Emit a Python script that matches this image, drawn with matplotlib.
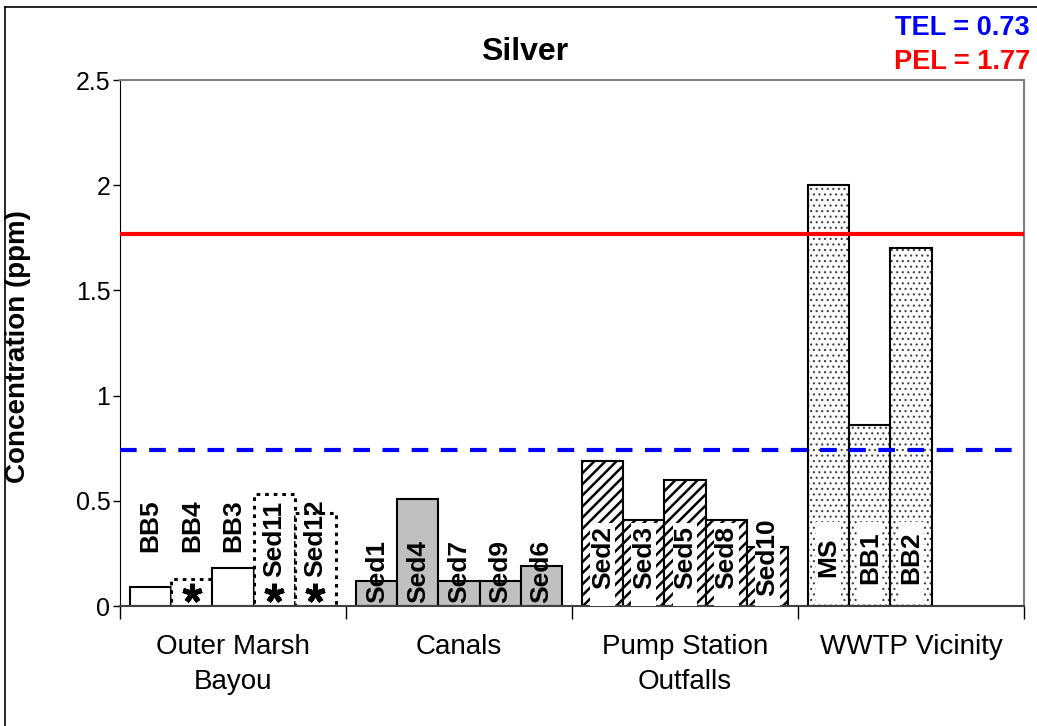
import numpy as np
import matplotlib
matplotlib.use("Agg")
import matplotlib.pyplot as plt
from matplotlib.patches import Rectangle
from matplotlib.lines import Line2D

plt.rcParams.update({"font.family": ["Liberation Sans", "DejaVu Sans"],
                     "hatch.linewidth": 1.8})

# data
groups = ["Outer Marsh\nBayou", "Canals", "Pump Station\nOutfalls", "WWTP Vicinity"]
outer_sites = ["BB5", "BB4", "BB3", "Sed11", "Sed12"]
outer_vals = [0.09, 0.13, 0.18, 0.53, 0.44]
outer_nd = [False, True, False, True, True]   # dotted bar + asterisk
canal_sites = ["Sed1", "Sed4", "Sed7", "Sed9", "Sed6"]
canal_vals = [0.12, 0.51, 0.12, 0.12, 0.19]
pump_sites = ["Sed2", "Sed3", "Sed5", "Sed8", "Sed10"]
pump_vals = [0.69, 0.41, 0.60, 0.41, 0.28]
wwtp_sites = ["MS", "BB1", "BB2"]
wwtp_vals = [2.0, 0.86, 1.70]
TEL = 0.74
PEL = 1.77
TEL_TXT = "TEL = 0.73"
PEL_TXT = "PEL = 1.77"

W = 0.182
OFF = 0.045
LBL = 19


def xpos(g, n):
    return g + OFF + (np.arange(n) + 0.5) * W


fig = plt.figure(figsize=(10.37, 7.26), dpi=100)
ax = fig.add_axes([120 / 1037, 1 - 606 / 726, 904 / 1037, 526 / 726])

# outer marsh bayou
x0 = xpos(0, len(outer_sites))
for x, v, s, nd in zip(x0, outer_vals, outer_sites, outer_nd):
    if nd:
        ax.bar(x, v, W, color="white", edgecolor="black", lw=2.2,
               ls=(0, (1.2, 1.6)), zorder=2)
        ax.plot(x, 0.062, marker=(5, 2, 0), ms=14, mew=3.6, color="black",
                zorder=4)
    else:
        ax.bar(x, v, W, color="white", edgecolor="black", lw=1.5, zorder=2)
    ty = 0.32 if s.startswith("Sed") else 0.38
    ax.text(x, ty, s, rotation=90, ha="center", va="center", fontsize=LBL,
            fontweight="bold", zorder=4)

# canals
x1 = xpos(1, len(canal_sites))
ax.bar(x1, canal_vals, W, color="#C0C0C0", edgecolor="black", lw=1.5, zorder=2)
for x, s in zip(x1, canal_sites):
    ax.text(x, 0.012, s, rotation=90, ha="center", va="bottom", fontsize=LBL,
            fontweight="bold", zorder=4)

# pump station outfalls
x2 = xpos(2, len(pump_sites))
ax.bar(x2, pump_vals, W, color="white", edgecolor="black", hatch="///",
       lw=1.5, zorder=2)
for x, s in zip(x2, pump_sites):
    ax.add_patch(Rectangle((x - 0.055, 0.0), 0.11, 0.395, fc="white",
                           ec="none", zorder=3))
    ax.text(x, 0.23, s, rotation=90, ha="center", va="center", fontsize=LBL,
            fontweight="bold", zorder=4)

# wwtp vicinity
x3 = xpos(3, len(wwtp_sites))
with plt.rc_context({"hatch.linewidth": 0.8}):
    ax.bar(x3, wwtp_vals, W, color="white", edgecolor="#404040", hatch="...",
           lw=0, zorder=2)
ax.bar(x3, wwtp_vals, W, fill=False, edgecolor="black", lw=1.5, zorder=2.5)
for x, s in zip(x3, wwtp_sites):
    ax.add_patch(Rectangle((x - 0.055, 0.015), 0.11, 0.385, fc="white",
                           ec="none", zorder=3))
    ax.text(x, 0.23, s, rotation=90, ha="center", va="center", fontsize=LBL,
            fontweight="bold", zorder=4)

# guideline levels
ax.axhline(PEL, color="#FF0000", lw=3, zorder=5)
ax.axhline(TEL, color="#0000FF", lw=3, ls=(0, (4, 3)), zorder=5)

ax.set_xlim(0, 4)
ax.set_ylim(0, 2.5)
ax.set_yticks(np.arange(0, 2.51, 0.5))
ax.set_yticklabels(["0", "0.5", "1", "1.5", "2", "2.5"], fontsize=18)
ax.tick_params(axis="y", length=5, width=1, pad=2)
ax.set_xticks(range(5))
ax.set_xticklabels([])
ax.tick_params(axis="x", which="major", length=9, width=1)
ax.set_xticks(np.arange(4) + 0.5, minor=True)
ax.set_xticklabels(groups, minor=True, fontsize=20, linespacing=1.45)
ax.tick_params(axis="x", which="minor", length=0, pad=20)
for sp in ("top", "right"):
    ax.spines[sp].set_color("#808080")
    ax.spines[sp].set_linewidth(1.5)
ax.spines["left"].set_color("black")
ax.spines["bottom"].set_color("#404040")
ax.spines["bottom"].set_linewidth(1.5)

ax.set_ylabel("Concentration (ppm)", fontsize=20, fontweight="bold")
ax.yaxis.set_label_coords(-0.099, 0.494)

fig.text(525 / 1037, 1 - 52 / 726, "Silver", ha="center", va="center",
         fontsize=23, fontweight="bold")
fig.text(1030 / 1037, 1 - 28 / 726, TEL_TXT, ha="right", va="center",
         fontsize=19.5, fontweight="bold", color="#0000FF")
fig.text(1030 / 1037, 1 - 62 / 726, PEL_TXT, ha="right", va="center",
         fontsize=19.5, fontweight="bold", color="#FF0000")

# outer chart frame (left and top edges visible)
fig.add_artist(Line2D([5 / 1037, 5 / 1037], [0, 1 - 7 / 726],
                      transform=fig.transFigure, color="black", lw=1.2))
fig.add_artist(Line2D([5 / 1037, 1], [1 - 7 / 726, 1 - 7 / 726],
                      transform=fig.transFigure, color="black", lw=1.2))

fig.savefig("out.png", dpi=100)
